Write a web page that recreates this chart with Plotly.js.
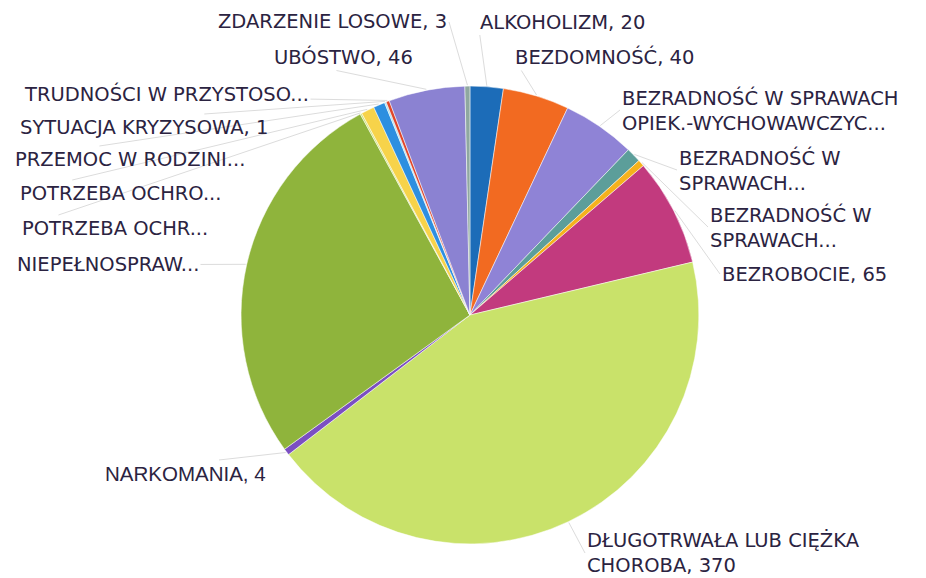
<!DOCTYPE html>
<html><head><meta charset="utf-8">
<script src="https://cdn.plot.ly/plotly-3.0.1.min.js"></script>
<style>html,body{margin:0;padding:0;background:#fff}#chart{width:926px;height:578px}</style>
</head><body><div id="chart"></div>
<script>
// ---- data ----
const categories = [
  "ALKOHOLIZM",
  "BEZDOMNOŚĆ",
  "BEZRADNOŚĆ W SPRAWACH<br>OPIEK.-WYCHOWAWCZYC...",
  "BEZRADNOŚĆ W<br>SPRAWACH...",
  "BEZRADNOŚĆ W<br>SPRAWACH... ",
  "BEZROBOCIE",
  "DŁUGOTRWAŁA LUB CIĘŻKA<br>CHOROBA",
  "NARKOMANIA",
  "NIEPEŁNOSPRAW...",
  "POTRZEBA OCHR...",
  "POTRZEBA OCHRO...",
  "PRZEMOC W RODZINI...",
  "SYTUACJA KRYZYSOWA",
  "TRUDNOŚCI W PRZYSTOSO...",
  "UBÓSTWO",
  "ZDARZENIE LOSOWE"
];
const values = [20, 40, 44, 9, 4, 65, 370, 4, 231, 1, 8, 7, 1, 2, 46, 3];

// ---- styles / layout ----
const colors = ["#1c6cb8","#f26a21","#8f83d6","#5c9e9a","#f5b21c","#c23a7e","#c9e26a","#7b4fc2",
                "#8fb43c","#cfe27a","#f7d34a","#2d8fe0","#a8e2f0","#e0462a","#8b82d2","#8fa8a0"];
// label anchor x (left or right edge) / vertical centre, in pixels
const labelX    = [478, 513, 620, 677, 708, 720, 585, 103, 15, 20, 18, 13, 18, 22, 272, 449];
const labelSide = ["left","left","left","left","left","left","left","left","left","left",
                   "left","left","left","left","left","right"];
const labelMidY = [22, 57, 110, 170, 227, 274, 553, 473, 265, 228, 193, 159, 127, 94, 57, 22];

const W = 926, H = 578;
const dom = {x: [0.260, 0.755], y: [0.059, 0.851]};
const cx = (dom.x[0] + dom.x[1]) / 2 * W;
const cy = H - (dom.y[0] + dom.y[1]) / 2 * H;
const R = Math.min((dom.x[1] - dom.x[0]) * W, (dom.y[1] - dom.y[0]) * H) / 2;

const total = values.reduce((a, b) => a + b, 0);
const texts = categories.map((c, i) => c.trim().endsWith("...") ? c.trim() : c + ", " + values[i]);

const annotations = [];
let cum = 0;
values.forEach((v, i) => {
  const mid = (cum + v / 2) / total * 2 * Math.PI;
  cum += v;
  const ex = cx + (R + 1) * Math.sin(mid);
  const ey = cy - (R + 1) * Math.cos(mid);
  const isArial = categories[i] === "NARKOMANIA";
  annotations.push({
    xref: "paper", yref: "paper",
    x: ex / W, y: 1 - ey / H,
    ax: labelX[i] - ex, ay: labelMidY[i] - ey,
    axref: "pixel", ayref: "pixel",
    xanchor: labelSide[i], yanchor: "middle", align: "left",
    text: texts[i],
    showarrow: true, arrowhead: 0, arrowwidth: 1, arrowcolor: "#dcdcdc",
    font: isArial
      ? {family: "Liberation Sans, Arial, sans-serif", size: 20.5, color: "#2b2341"}
      : {family: "DejaVu Sans, sans-serif", size: 19.5, color: "#2b2341"}
  });
});

Plotly.newPlot("chart", [{
  type: "pie",
  labels: categories,
  values: values,
  textinfo: "none",
  sort: false,
  direction: "clockwise",
  rotation: 0,
  marker: {colors: colors, line: {color: "#ffffff", width: 0.5}},
  automargin: false,
  domain: dom,
  hoverinfo: "none"
}], {
  width: W, height: H,
  margin: {l: 0, r: 0, t: 0, b: 0},
  showlegend: false,
  paper_bgcolor: "#ffffff",
  annotations: annotations
}, {displayModeBar: false, staticPlot: true});
</script></body></html>
